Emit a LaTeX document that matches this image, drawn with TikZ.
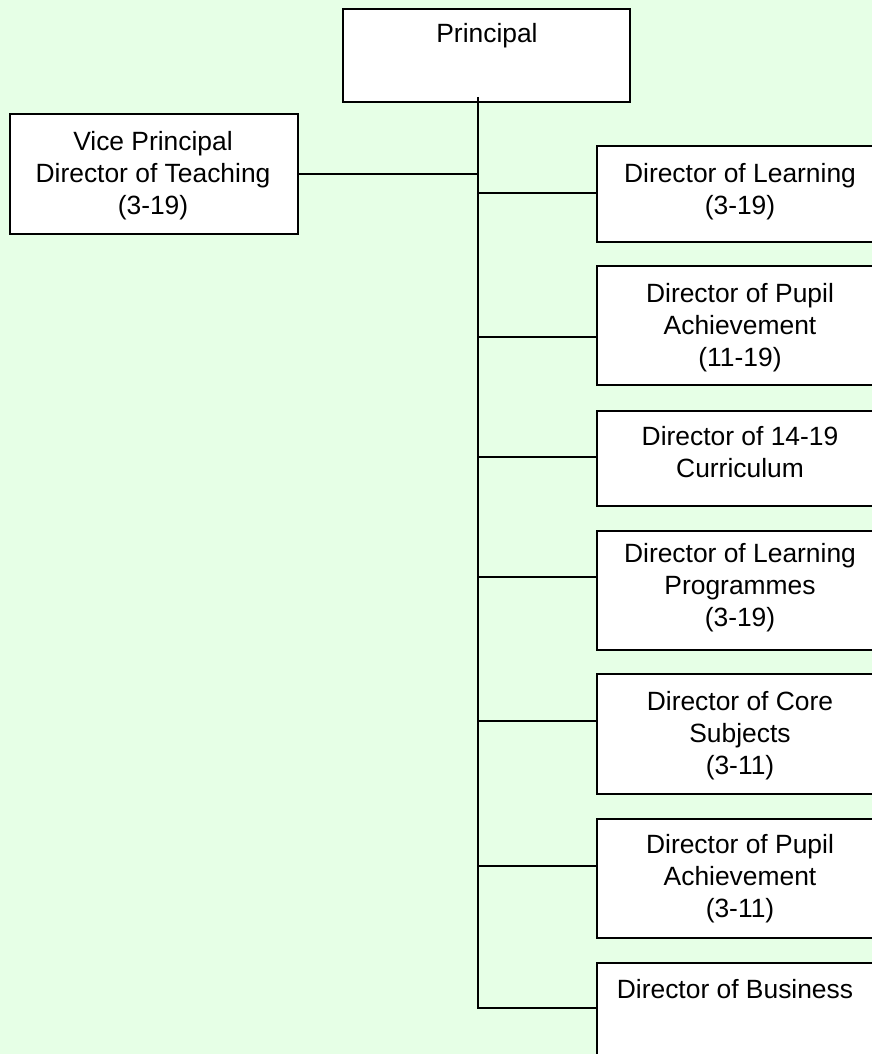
\documentclass[tikz,border=0pt]{standalone}
\usepackage{fontspec}
\setmainfont{Liberation Sans}
\definecolor{pagegreen}{RGB}{230,255,230}
\begin{document}
\begin{tikzpicture}[x=1pt,y=-1pt,
  box/.style={draw=black,line width=1.6pt,fill=white,rectangle,anchor=north west,
    inner sep=0pt,minimum width=288pt},
  txt/.style={font=\fontsize{26.4}{32}\selectfont,align=center,inner sep=0pt,anchor=north},
  link/.style={draw=black,line width=1.5pt}]
  \useasboundingbox (0,0) rectangle (872,1054);
  \clip (0,0) rectangle (872,1054);
  \fill[pagegreen] (0,0) rectangle (872,1054);

  % boxes
  \node[box,minimum width=287pt,minimum height=93pt] (prin) at (342,8) {};
  \node[box,minimum height=120pt] (vp) at (9,113) {};
  \node[box,minimum height=96pt]  (b1) at (596,145) {};
  \node[box,minimum height=119pt] (b2) at (596,265) {};
  \node[box,minimum height=95pt]  (b3) at (596,410) {};
  \node[box,minimum height=119pt] (b4) at (596,530) {};
  \node[box,minimum height=120pt] (b5) at (596,673) {};
  \node[box,minimum height=119pt] (b6) at (596,818) {};
  \node[box,minimum height=130pt] (b7) at (596,962) {};

  % texts
  \node[txt] (prin-t) at (487,19.6) {\strut Principal};
  \node[txt] (vp-t) at (153,127.6) {\strut Vice Principal\\Director of Teaching\\(3-19)};
  \node[txt] (b1-t) at (740,159.6) {\strut Director of Learning\\(3-19)};
  \node[txt] (b2-t) at (740,279.6) {\strut Director of Pupil\\Achievement\\(11-19)};
  \node[txt] (b3-t) at (740,422.6) {\strut Director of 14-19\\Curriculum};
  \node[txt] (b4-t) at (740,539.6) {\strut Director of Learning\\Programmes\\(3-19)};
  \node[txt] (b5-t) at (740,687.6) {\strut Director of Core\\Subjects\\(3-11)};
  \node[txt] (b6-t) at (740,830.6) {\strut Director of Pupil\\Achievement\\(3-11)};
  \node[txt] (b7-t) at (735,975.6) {\strut Director of Business};

  % trunk and junctions
  \coordinate (top) at (478,97);
  \coordinate (j1) at (478,193);
  \coordinate (j2) at (478,337);
  \coordinate (j3) at (478,457);
  \coordinate (j4) at (478,577);
  \coordinate (j5) at (478,721);
  \coordinate (j6) at (478,866);
  \coordinate (j7) at (478,1008);

  \draw[link] (top) -- (j7) -- (j7 -| b7.west);
  \draw[link] (vp.east) -- (vp.east -| top);
  \draw[link] (j1) -- (j1 -| b1.west);
  \draw[link] (j2) -- (j2 -| b2.west);
  \draw[link] (j3) -- (j3 -| b3.west);
  \draw[link] (j4) -- (j4 -| b4.west);
  \draw[link] (j5) -- (j5 -| b5.west);
  \draw[link] (j6) -- (j6 -| b6.west);
\end{tikzpicture}
\end{document}
